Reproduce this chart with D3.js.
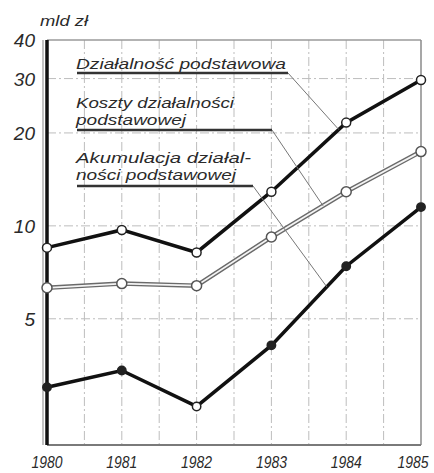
<!DOCTYPE html>
<html>
<head>
<meta charset="utf-8">
<script src="https://cdn.jsdelivr.net/npm/d3@7"></script>
<style>
  body { margin: 0; background: #fff; }
  text { font-family: "Liberation Sans", Arial, sans-serif; font-style: italic; fill: #2a2a2a; }
</style>
</head>
<body>
<svg width="434" height="473"></svg>
<script>
const years = [1980, 1981, 1982, 1983, 1984, 1985];
const dzialalnosc = [8.5, 9.7, 8.2, 12.9, 21.6, 29.7];
const koszty = [6.3, 6.5, 6.4, 9.2, 12.9, 17.4];
const akumulacja = [3.0, 3.4, 2.6, 4.1, 7.4, 11.5];
const yTicks = [5, 10, 20, 30, 40];
const unitLabel = "mld zł";

const svg = d3.select("svg");

const x = d3.scaleLinear().domain([1980, 1985]).range([47, 421]);
const y = d3.scaleLog().domain([1.95, 40]).range([445, 40]);

// grid
const grid = svg.append("g").attr("stroke", "#bdbdbd").attr("stroke-width", 1)
  .attr("stroke-dasharray", "9,3,2,3");
grid.selectAll(".vg")
  .data(d3.range(1980.5, 1985, 0.5))
  .join("line")
  .attr("x1", d => x(d)).attr("x2", d => x(d))
  .attr("y1", y(40)).attr("y2", y(1.95));
grid.selectAll(".hg")
  .data(yTicks.filter(d => d < 40))
  .join("line")
  .attr("x1", x(1980)).attr("x2", x(1985))
  .attr("y1", d => y(d)).attr("y2", d => y(d));

// frame
svg.append("line").attr("x1", x(1980)).attr("x2", x(1985)).attr("y1", y(40)).attr("y2", y(40))
  .attr("stroke", "#9a9a9a").attr("stroke-width", 1.5);
svg.append("line").attr("x1", x(1985)).attr("x2", x(1985)).attr("y1", y(40)).attr("y2", y(1.95))
  .attr("stroke", "#8a8a8a").attr("stroke-width", 1.5);
svg.append("line").attr("x1", x(1980)).attr("x2", x(1985)).attr("y1", y(1.95)).attr("y2", y(1.95))
  .attr("stroke", "#7a7a7a").attr("stroke-width", 2);
svg.append("line").attr("x1", x(1980) - 4).attr("x2", x(1980) - 4).attr("y1", y(40)).attr("y2", y(1.95))
  .attr("stroke", "#9a9a9a").attr("stroke-width", 1.2);
svg.append("line").attr("x1", x(1980)).attr("x2", x(1980)).attr("y1", y(40)).attr("y2", y(1.95))
  .attr("stroke", "#111").attr("stroke-width", 3.5);

// y labels
svg.append("g").selectAll("text")
  .data(yTicks)
  .join("text")
  .attr("x", 35).attr("y", d => y(d) + 7)
  .attr("text-anchor", "end")
  .attr("font-size", 19)
  .text(d => d);

svg.append("text").attr("x", 40).attr("y", 26).attr("font-size", 15)
  .attr("textLength", 48).attr("lengthAdjust", "spacingAndGlyphs").text(unitLabel);

// x labels
svg.append("g").selectAll("text")
  .data(years)
  .join("text")
  .attr("x", d => Math.min(x(d), 413)).attr("y", 468)
  .attr("text-anchor", "middle")
  .attr("font-size", 16)
  .attr("textLength", 31).attr("lengthAdjust", "spacingAndGlyphs")
  .text(d => d);

const line = d3.line().x((d, i) => x(years[i])).y(d => y(d));

// koszty: double line
svg.append("path").datum(koszty).attr("d", line).attr("fill", "none")
  .attr("stroke", "#6a6a6a").attr("stroke-width", 4.5);
svg.append("path").datum(koszty).attr("d", line).attr("fill", "none")
  .attr("stroke", "#f4f4f4").attr("stroke-width", 1.8);

svg.append("path").datum(dzialalnosc).attr("d", line).attr("fill", "none")
  .attr("stroke", "#111").attr("stroke-width", 3.5);
svg.append("path").datum(akumulacja).attr("d", line).attr("fill", "none")
  .attr("stroke", "#111").attr("stroke-width", 3.5);

// markers
svg.append("g").selectAll("circle").data(dzialalnosc).join("circle")
  .attr("cx", (d, i) => x(years[i])).attr("cy", d => y(d)).attr("r", 4.5)
  .attr("fill", "#fff").attr("stroke", "#222").attr("stroke-width", 1.5);
svg.append("g").selectAll("circle").data(koszty).join("circle")
  .attr("cx", (d, i) => x(years[i])).attr("cy", d => y(d)).attr("r", 5)
  .attr("fill", "#fff").attr("stroke", "#555").attr("stroke-width", 1.5);
svg.append("g").selectAll("circle").data(akumulacja).join("circle")
  .attr("cx", (d, i) => x(years[i])).attr("cy", d => y(d)).attr("r", 4.2)
  .attr("fill", (d, i) => i === 2 ? "#fff" : "#222").attr("stroke", "#222").attr("stroke-width", 1.5);

// point on a series at a fractional year (log interpolation)
function pointOn(values, yr) {
  const i = Math.min(Math.floor(yr - 1980), values.length - 2);
  const t = yr - 1980 - i;
  const v = Math.exp(Math.log(values[i]) * (1 - t) + Math.log(values[i + 1]) * t);
  return [x(yr), y(v)];
}

// labels with underline and leader
const labels = [
  { lines: ["Działalność podstawowa"], widths: [210], base: 69, ul: [77, 288, 73], values: dzialalnosc, at: 1983.9 },
  { lines: ["Koszty działalności", "podstawowej"], widths: [158, 110], base: 108, ul: [77, 272, 130], values: koszty, at: 1983.69 },
  { lines: ["Akumulacja działal-", "ności podstawowej"], widths: [175, 160], base: 163, ul: [77, 253, 186], values: akumulacja, at: 1983.74 }
];

labels.forEach(l => {
  l.lines.forEach((t, i) => {
    svg.append("text")
      .attr("x", 76).attr("y", l.base + i * 17)
      .attr("font-size", 15)
      .attr("textLength", l.widths[i]).attr("lengthAdjust", "spacingAndGlyphs")
      .text(t);
  });
  svg.append("line")
    .attr("x1", l.ul[0]).attr("x2", l.ul[1]).attr("y1", l.ul[2]).attr("y2", l.ul[2])
    .attr("stroke", "#333").attr("stroke-width", 2.5);
  const p = pointOn(l.values, l.at);
  svg.append("line")
    .attr("x1", l.ul[1]).attr("y1", l.ul[2]).attr("x2", p[0]).attr("y2", p[1])
    .attr("stroke", "#777").attr("stroke-width", 1);
});
</script>
</body>
</html>
